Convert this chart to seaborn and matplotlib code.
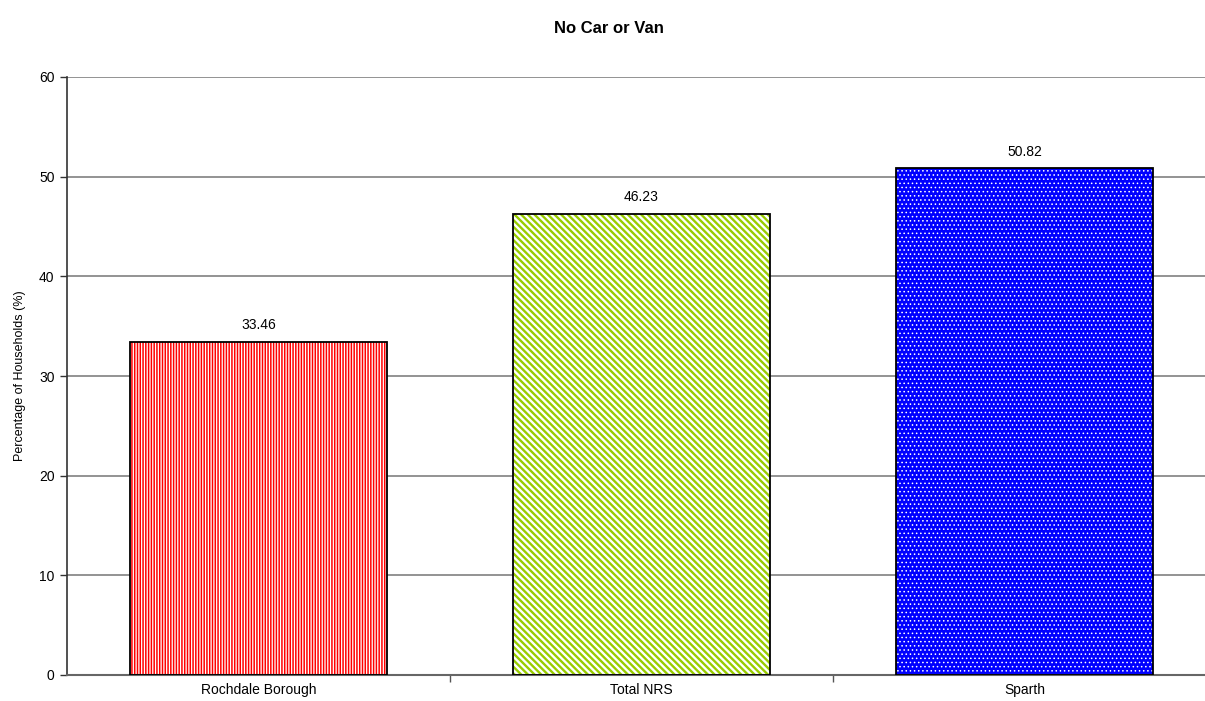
import matplotlib
matplotlib.use("Agg")
import matplotlib.pyplot as plt
from matplotlib.patches import Rectangle
import seaborn as sns
import pandas as pd

categories = ["Rochdale Borough", "Total NRS", "Sparth"]
values = [33.46, 46.23, 50.82]
y_ticks = [0, 10, 20, 30, 40, 50, 60]

title = "No Car or Van"
y_label = "Percentage of Households (%)"

sns.set_theme(style="white")
plt.rcParams["font.family"] = ["Liberation Sans", "DejaVu Sans"]
plt.rcParams["text.color"] = "black"
plt.rcParams["axes.labelcolor"] = "black"
plt.rcParams["xtick.color"] = "black"
plt.rcParams["ytick.color"] = "black"

# per-bar fill: (face colour, hatch colour, hatch pattern, hatch line width)
bar_styles = [
    ("white", "#FF0000", "||||||", 1.1),
    ("white", "#99CC00", "\\\\\\\\\\", 1.7),
    ("#0000FF", "white", "....", 0.6),
]

df = pd.DataFrame({"area": categories, "pct": values})

fig = plt.figure(figsize=(12.05, 7.01), dpi=100)
ax = fig.add_axes([67 / 1205, 26 / 701, 1149 / 1205, 598 / 701])

sns.barplot(data=df, x="area", y="pct", ax=ax, width=0.67,
            color="white", saturation=1, zorder=2)

for patch, (face, hcol, hatch, hlw) in zip(list(ax.patches), bar_styles):
    x0, y0 = patch.get_x(), patch.get_y()
    w, h = patch.get_width(), patch.get_height()
    patch.set_visible(False)
    with plt.rc_context({"hatch.linewidth": hlw}):
        fill = Rectangle((x0, y0), w, h, facecolor=face, edgecolor=hcol,
                         hatch=hatch, linewidth=0, zorder=2)
    ax.add_patch(fill)
    ax.add_patch(Rectangle((x0, y0), w, h, facecolor="none",
                           edgecolor="black", linewidth=1.3, zorder=3))
    ax.text(x0 + w / 2, h + 1.0, f"{h:.2f}", ha="center", va="bottom",
            fontsize=10, color="black")

ax.set_xlim(-0.5, 2.5)
ax.set_ylim(0, 60)
ax.set_yticks(y_ticks)
ax.yaxis.grid(True, color="#808080", linewidth=1.2, zorder=0)
ax.set_axisbelow(True)

ax.tick_params(axis="y", which="major", left=True, length=5, width=1,
               color="#333333", labelsize=10, pad=4)
ax.tick_params(axis="x", which="major", length=0, labelsize=10, pad=6)
ax.set_xticks([0.5, 1.5], minor=True)
ax.tick_params(axis="x", which="minor", bottom=True, length=5, width=1,
               color="#555555")

for side in ("top", "right"):
    ax.spines[side].set_visible(False)
ax.spines["left"].set_color("#333333")
ax.spines["left"].set_linewidth(1.2)
ax.spines["bottom"].set_color("#666666")
ax.spines["bottom"].set_linewidth(1.5)

ax.set_xlabel("")
ax.set_ylabel(y_label, fontsize=9, labelpad=9)

fig.text(0.505, 0.96, title, ha="center", va="center", fontsize=12,
         fontweight="bold")

fig.savefig("out.png", dpi=100, facecolor="white")
